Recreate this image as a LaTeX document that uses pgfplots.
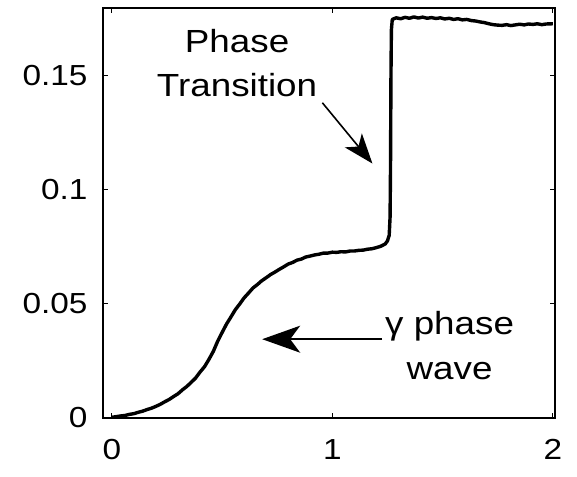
\documentclass[border=0pt]{standalone}
\usepackage{pgfplots}
\pgfplotsset{compat=1.18}
\usepackage{fontspec}
\setmainfont[FakeStretch=1.15]{Liberation Sans}
\usetikzlibrary{arrows.meta}
\begin{document}
\begin{tikzpicture}
\useasboundingbox (-103pt,-58pt) rectangle (474pt,418pt);
\begin{axis}[
  scale only axis, width=452pt, height=410pt,
  xmin=-0.04, xmax=2.01, ymin=0, ymax=0.1795,
  xtick={0,1,2}, ytick={0,0.05,0.1,0.15},
  yticklabels={0,0.05,0.1,0.15},
  xticklabels={0,1,2},
  tick align=inside, tick pos=both,
  major tick length=5pt,
  every tick/.style={black, line width=1pt},
  axis line style={line width=1.4pt},
  tick label style={font=\fontsize{29}{30}\selectfont},
  xticklabel style={yshift=-18pt},
  yticklabel style={xshift=-12pt},
  /pgf/number format/assume math mode=true,
  clip=false,
]
\addplot[black, line width=3.4pt, line join=round] coordinates {
(0.00,0.0003) (0.02,0.0006) (0.04,0.0009) (0.06,0.0011) (0.08,0.0016)
(0.10,0.0019) (0.12,0.0025) (0.14,0.0030) (0.16,0.0037) (0.18,0.0043)
(0.20,0.0051) (0.22,0.0060) (0.24,0.0071) (0.26,0.0081) (0.28,0.0094)
(0.30,0.0106) (0.32,0.0123) (0.34,0.0138) (0.36,0.0156) (0.38,0.0175)
(0.40,0.0201) (0.42,0.0224) (0.44,0.0256) (0.46,0.0291) (0.48,0.0336)
(0.50,0.0374) (0.52,0.0411) (0.54,0.0442) (0.56,0.0474) (0.58,0.0499)
(0.60,0.0526) (0.62,0.0547) (0.64,0.0569) (0.66,0.0584) (0.68,0.0601)
(0.70,0.0614) (0.72,0.0628) (0.74,0.0639) (0.76,0.0651) (0.78,0.0662)
(0.80,0.0674) (0.82,0.0681) (0.84,0.0691) (0.86,0.0696) (0.88,0.0705)
(0.90,0.0709) (0.92,0.0714) (0.94,0.0717) (0.96,0.0722) (0.98,0.0722)
(1.00,0.0726) (1.02,0.0725) (1.04,0.0728) (1.06,0.0727) (1.08,0.0731)
(1.10,0.0731) (1.12,0.0734) (1.14,0.0735) (1.16,0.0739) (1.18,0.0741)
(1.20,0.0746) (1.22,0.0752) (1.24,0.0762) (1.25,0.0775) (1.258,0.0800)
(1.262,0.0880) (1.264,0.1100) (1.266,0.1500) (1.268,0.1700) (1.272,0.1745)
(1.29,0.1752) (1.31,0.1748) (1.33,0.1754) (1.35,0.1750) (1.37,0.1756)
(1.39,0.1751) (1.41,0.1755) (1.43,0.1750) (1.45,0.1753) (1.47,0.1749)
(1.49,0.1752) (1.51,0.1747) (1.53,0.1750) (1.55,0.1745) (1.57,0.1748)
(1.59,0.1743) (1.61,0.1745) (1.63,0.1740) (1.65,0.1738) (1.67,0.1734)
(1.69,0.1731) (1.71,0.1726) (1.73,0.1722) (1.75,0.1720) (1.77,0.1719)
(1.79,0.1722) (1.81,0.1718) (1.83,0.1721) (1.85,0.1724) (1.87,0.1721)
(1.89,0.1725) (1.91,0.1723) (1.93,0.1726) (1.95,0.1722) (1.97,0.1725)
(2.00,0.1726)
};
\node[align=center, font=\fontsize{32}{44}\selectfont] at (axis cs:0.568,0.1553) {Phase\\Transition};
\draw[line width=1.6pt, -{Stealth[length=30pt,width=22pt,inset=8pt]}] (axis cs:0.955,0.138) -- (axis cs:1.182,0.1114);
\node[align=center, font=\fontsize{32}{45}\selectfont] at (axis cs:1.532,0.0315) {γ phase\\wave};
\draw[line width=1.4pt, -{Stealth[length=38pt,width=27pt,inset=10pt]}] (axis cs:1.226,0.0345) -- (axis cs:0.682,0.0345);
\end{axis}
\end{tikzpicture}
\end{document}
